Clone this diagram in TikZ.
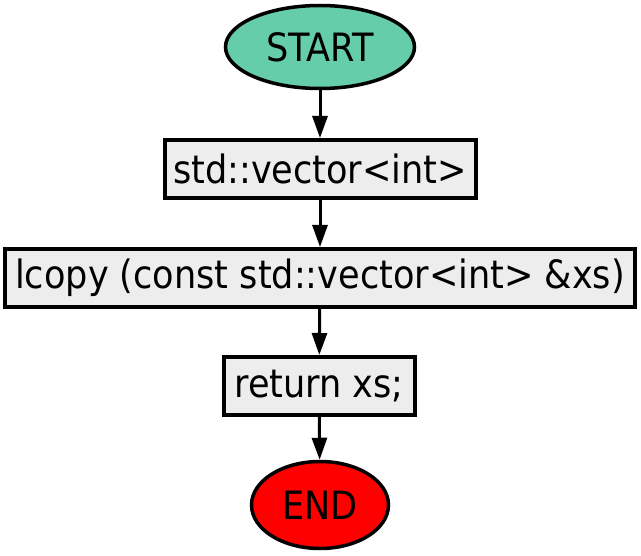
\documentclass[tikz,border=0pt]{standalone}
\usepackage{fontspec}
\setmainfont{DejaVu Sans Condensed}
\usetikzlibrary{arrows.meta,shapes.geometric}

\begin{document}
\begin{tikzpicture}[
  x=1pt, y=1pt,
  font=\fontsize{39}{42}\selectfont,
  terminal/.style={ellipse, draw=black, line width=3.5pt, inner sep=0pt},
  stepbox/.style={rectangle, draw=black, fill=black!7, line width=4pt, inner sep=0pt, minimum height=58pt},
  flow/.style={-{Triangle[length=22pt,width=15pt]}, line width=3pt, draw=black}
]
\useasboundingbox (0,0) rectangle (641,-556);

% Terminals and steps.
\node[terminal, fill={rgb,255:red,102;green,205;blue,170}, minimum width=189pt, minimum height=83pt] (start) at (320,-47) {START};
\node[stepbox, minimum width=311pt] (vec) at (320,-169) {std::vector<int>};
\node[stepbox, minimum width=630pt] (copy) at (320,-278) {lcopy (const std::vector<int> \&xs)};
\node[stepbox, minimum width=191pt] (ret) at (319,-386) {return xs;};
\node[terminal, fill=red, minimum width=137pt, minimum height=87pt] (end) at (320,-505) {END};

% Control flow.
\draw[flow] (start) -- (vec);
\draw[flow] (vec) -- (copy);
\draw[flow] (copy) -- (ret);
\draw[flow] (ret) -- (end);

\end{tikzpicture}
\end{document}
